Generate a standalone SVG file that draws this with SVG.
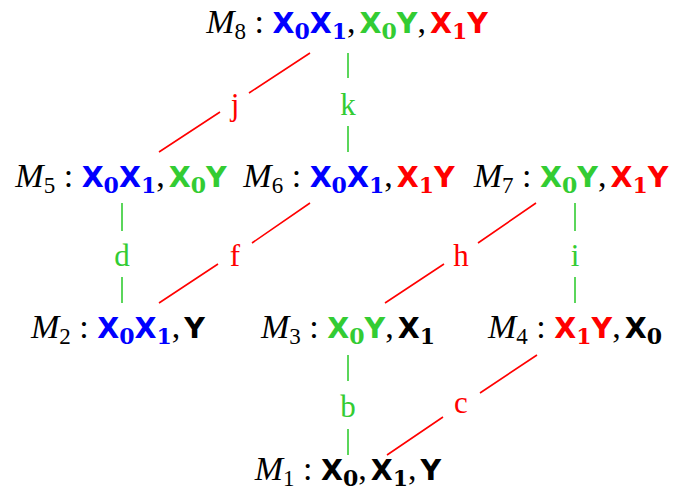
<svg xmlns="http://www.w3.org/2000/svg" width="676" height="494" viewBox="0 0 676 494">
<style>
.lbl{font-family:"Liberation Serif","DejaVu Serif",serif;font-size:34px;fill:#000;text-anchor:middle}
.m{font-style:italic}
.x{font-family:"DejaVu Sans","Liberation Sans",sans-serif;font-weight:bold;font-size:28.5px}
.s{font-size:23px}
.sb{font-family:"DejaVu Serif",serif;font-weight:bold;font-size:22px}
.b{fill:#0000ff}.g{fill:#33cc33}.r{fill:#ff0000}.k{fill:#000}
.el{font-family:"Liberation Serif","DejaVu Serif",serif;font-size:31px;text-anchor:middle}
.lr{stroke:#ff0000;stroke-width:1.6;fill:none}
.lg{stroke:#33cc33;stroke-width:1.6;fill:none}
</style>
<g id="connectors">
<path class="lr" d="M310,53 L249,93 M220,112 L159,152"/>
<path class="lg" d="M348,53 V78 M348,126 V152"/>
<path class="lg" d="M122,203 V231 M122,277 V303"/>
<path class="lr" d="M310,203 L252,243 M218,264 L159,303"/>
<path class="lr" d="M536,203 L478,243 M444,264 L385,303"/>
<path class="lg" d="M575,203 V231 M575,277 V303"/>
<path class="lg" d="M348,355 V381 M348,429 V455"/>
<path class="lr" d="M537,355 L480,393 M443,417 L387,455"/>
<text class="el r" x="235" y="115">j</text>
<text class="el g" x="348" y="115">k</text>
<text class="el g" x="122" y="266">d</text>
<text class="el r" x="235" y="266">f</text>
<text class="el r" x="461" y="266">h</text>
<text class="el g" x="575" y="266">i</text>
<text class="el g" x="348" y="417">b</text>
<text class="el r" x="461" y="413">c</text>
</g>
<g id="M8"><text class="lbl" x="347" y="33"><tspan class="m">M</tspan><tspan class="s" dy="6">8</tspan><tspan dy="-6"> : </tspan><tspan class="x b">X</tspan><tspan class="sb b" dy="6">0</tspan><tspan class="x b" dy="-6">X</tspan><tspan class="sb b" dy="6">1</tspan><tspan dy="-6">,</tspan><tspan class="x g" dx="4">X</tspan><tspan class="sb g" dy="6">0</tspan><tspan class="x g" dy="-6">Y</tspan><tspan>,</tspan><tspan class="x r" dx="4">X</tspan><tspan class="sb r" dy="6">1</tspan><tspan class="x r" dy="-6">Y</tspan></text></g>
<g id="M5"><text class="lbl" x="121" y="187"><tspan class="m">M</tspan><tspan class="s" dy="6">5</tspan><tspan dy="-6"> : </tspan><tspan class="x b">X</tspan><tspan class="sb b" dy="6">0</tspan><tspan class="x b" dy="-6">X</tspan><tspan class="sb b" dy="6">1</tspan><tspan dy="-6">,</tspan><tspan class="x g" dx="4">X</tspan><tspan class="sb g" dy="6">0</tspan><tspan class="x g" dy="-6">Y</tspan></text></g>
<g id="M6"><text class="lbl" x="349" y="187"><tspan class="m">M</tspan><tspan class="s" dy="6">6</tspan><tspan dy="-6"> : </tspan><tspan class="x b">X</tspan><tspan class="sb b" dy="6">0</tspan><tspan class="x b" dy="-6">X</tspan><tspan class="sb b" dy="6">1</tspan><tspan dy="-6">,</tspan><tspan class="x r" dx="4">X</tspan><tspan class="sb r" dy="6">1</tspan><tspan class="x r" dy="-6">Y</tspan></text></g>
<g id="M7"><text class="lbl" x="571" y="187"><tspan class="m">M</tspan><tspan class="s" dy="6">7</tspan><tspan dy="-6"> : </tspan><tspan class="x g">X</tspan><tspan class="sb g" dy="6">0</tspan><tspan class="x g" dy="-6">Y</tspan><tspan>,</tspan><tspan class="x r" dx="4">X</tspan><tspan class="sb r" dy="6">1</tspan><tspan class="x r" dy="-6">Y</tspan></text></g>
<g id="M2"><text class="lbl" x="118" y="338"><tspan class="m">M</tspan><tspan class="s" dy="6">2</tspan><tspan dy="-6"> : </tspan><tspan class="x b">X</tspan><tspan class="sb b" dy="6">0</tspan><tspan class="x b" dy="-6">X</tspan><tspan class="sb b" dy="6">1</tspan><tspan dy="-6">,</tspan><tspan class="x k" dx="4">Y</tspan></text></g>
<g id="M3"><text class="lbl" x="348" y="338"><tspan class="m">M</tspan><tspan class="s" dy="6">3</tspan><tspan dy="-6"> : </tspan><tspan class="x g">X</tspan><tspan class="sb g" dy="6">0</tspan><tspan class="x g" dy="-6">Y</tspan><tspan>,</tspan><tspan class="x k" dx="4">X</tspan><tspan class="sb k" dy="6">1</tspan></text></g>
<g id="M4"><text class="lbl" x="575" y="338"><tspan class="m">M</tspan><tspan class="s" dy="6">4</tspan><tspan dy="-6"> : </tspan><tspan class="x r">X</tspan><tspan class="sb r" dy="6">1</tspan><tspan class="x r" dy="-6">Y</tspan><tspan>,</tspan><tspan class="x k" dx="4">X</tspan><tspan class="sb k" dy="6">0</tspan></text></g>
<g id="M1"><text class="lbl" x="348" y="480"><tspan class="m">M</tspan><tspan class="s" dy="6">1</tspan><tspan dy="-6"> : </tspan><tspan class="x k">X</tspan><tspan class="sb k" dy="6">0</tspan><tspan dy="-6">,</tspan><tspan class="x k" dx="4">X</tspan><tspan class="sb k" dy="6">1</tspan><tspan dy="-6">,</tspan><tspan class="x k" dx="4">Y</tspan></text></g>
</svg>
